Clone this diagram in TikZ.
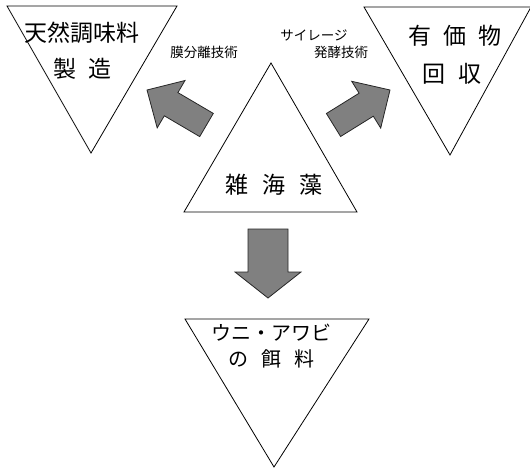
\documentclass[tikz,border=0pt]{standalone}
\usepackage{fontspec}
\newfontfamily\jp{Noto Sans CJK JP}
\begin{document}
\begin{tikzpicture}[x=1pt,y=-1pt,
  tri/.style={draw=black, line width=0.8pt, line join=miter},
  blk/.style={draw=black!85, fill=black!50, line width=0.8pt, line join=miter},
  big/.style={font=\jp\fontsize{23}{23}\selectfont, inner sep=0pt},
  mid/.style={font=\jp\fontsize{20}{20}\selectfont, inner sep=0pt},
  small/.style={font=\jp\fontsize{13.5}{14}\selectfont, inner sep=0pt}]
\useasboundingbox (0,0) rectangle (530,468);
% triangles
\coordinate (a1) at (7,6);   \coordinate (a2) at (177,6);  \coordinate (a3) at (91,153);
\coordinate (b1) at (364,7); \coordinate (b2) at (531,7);  \coordinate (b3) at (450,155);
\coordinate (c1) at (184,212); \coordinate (c2) at (357,212); \coordinate (c3) at (271,63);
\coordinate (d1) at (185,319); \coordinate (d2) at (369,319); \coordinate (d3) at (274,467);
\draw[tri] (a1)--(a2)--(a3)--cycle;
\draw[tri] (b1)--(b2)--(b3)--cycle;
\draw[tri] (c1)--(c2)--(c3)--cycle;
\draw[tri] (d1)--(d2)--(d3)--cycle;
% block arrows
\draw[blk] (147,90)--(185,80.5)--(177.9,92.6)--(213.3,113.4)--(199.7,136.6)--(164.3,115.8)--(157.2,127.9)--cycle;
\draw[blk] (390,90)--(351.7,81.3)--(359.1,93.2)--(326.4,113.5)--(340.6,136.5)--(373.3,116.2)--(380.7,128.1)--cycle;
\draw[blk] (248,229)--(288,229)--(288,272)--(301,272)--(268,298)--(235,272)--(248,272)--cycle;
% texts
\node[big] (ta) at (82,33) {天然調味料};
\node[big] (tb) at (82.5,69) {製\hspace{13pt}造};
\node[big] (tc) at (455,36) {有\hspace{12.5pt}価\hspace{12.5pt}物};
\node[big] (td) at (452,74) {回\hspace{14pt}収};
\node[big] (te) at (274,185) {雑\hspace{14.5pt}海\hspace{14.5pt}藻};
\node[mid] (tf) at (271.5,333) {ウニ・アワビ};
\node[mid] (tg) at (271.5,359) {の\hspace{13pt}餌\hspace{13pt}料};
\node[small] (la) at (204,52) {膜分離技術};
\node[small] (lb) at (314,35) {サイレージ};
\node[small] (lc) at (341,52) {発酵技術};
\end{tikzpicture}
\end{document}
